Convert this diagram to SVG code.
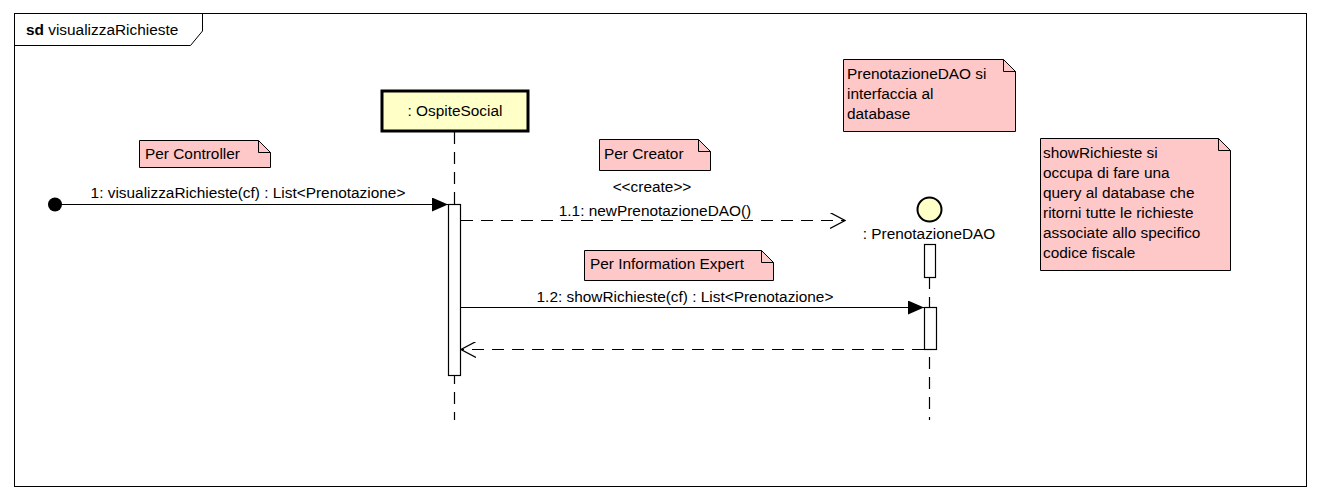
<svg xmlns="http://www.w3.org/2000/svg" width="1320" height="500" viewBox="0 0 1320 500">
<defs>
<style>
text{font-family:"Liberation Sans",Arial,sans-serif;font-size:15.4px;fill:#000}
.note path.b{fill:#ffc8c8;stroke:#000;stroke-width:1}
.note path.f{fill:none;stroke:#000;stroke-width:1}
.life{stroke:#000;stroke-width:1.2;stroke-dasharray:12,8;fill:none}
.act{fill:#fff;stroke:#000;stroke-width:1.2}
.msg{stroke:#000;stroke-width:1.2;fill:none}
.dash{stroke-dasharray:12,8}
</style>
<marker id="filled" markerWidth="16" markerHeight="14" refX="16" refY="7" orient="auto" markerUnits="userSpaceOnUse"><path d="M0,0 L16,7 L0,14 Z" fill="#000"/></marker>
<marker id="open" markerWidth="16" markerHeight="16" refX="15" refY="8" orient="auto" markerUnits="userSpaceOnUse"><path d="M0,0 L15,8 L0,16" fill="none" stroke="#000" stroke-width="1.2"/></marker>
</defs>
<rect width="1320" height="500" fill="#fff"/>
<g id="frame">
<rect x="14.5" y="13.5" width="1292" height="473" fill="none" stroke="#000" stroke-width="1"/>
<path d="M14.5,45.5 H190.5 L202.5,31 V13.5" fill="none" stroke="#000" stroke-width="1"/>
<text x="26" y="35"><tspan font-weight="bold">sd</tspan> visualizzaRichieste</text>
</g>
<g id="ospite">
<line class="life" x1="454.5" y1="132" x2="454.5" y2="420"/>
<rect x="382" y="91" width="146" height="40" fill="#ffffc8" stroke="#000" stroke-width="3"/>
<text x="455" y="116" text-anchor="middle">: OspiteSocial</text>
<rect class="act" x="448.5" y="204.5" width="12" height="171"/>
</g>
<g id="dao">
<line class="life" x1="929.5" y1="277" x2="929.5" y2="420"/>
<circle cx="929.5" cy="209.5" r="12" fill="#ffffc8" stroke="#000" stroke-width="2"/>
<text x="929" y="239" text-anchor="middle">: PrenotazioneDAO</text>
<rect class="act" x="924.5" y="244.5" width="11" height="33"/>
<rect class="act" x="924.5" y="307.5" width="12" height="42"/>
</g>
<g id="note-controller" class="note">
<path class="b" d="M139.5,140.5 H258.5 L270.5,152.5 V167.5 H139.5 Z"/>
<path class="f" d="M258.5,140.5 V152.5 H270.5"/>
<text x="145" y="159">Per Controller</text>
</g>
<g id="note-creator" class="note">
<path class="b" d="M599.5,139.5 H698.5 L710.5,151.5 V170.5 H599.5 Z"/>
<path class="f" d="M698.5,139.5 V151.5 H710.5"/>
<text x="604" y="159">Per Creator</text>
</g>
<g id="note-expert" class="note">
<path class="b" d="M584.5,250.5 H761.5 L773.5,262.5 V280.5 H584.5 Z"/>
<path class="f" d="M761.5,250.5 V262.5 H773.5"/>
<text x="590" y="269">Per Information Expert</text>
</g>
<g id="note-dao" class="note">
<path class="b" d="M843.5,59.5 H1003.5 L1015.5,71.5 V131.5 H843.5 Z"/>
<path class="f" d="M1003.5,59.5 V71.5 H1015.5"/>
<text x="847" y="79">PrenotazioneDAO si</text>
<text x="847" y="99">interfaccia al</text>
<text x="847" y="119">database</text>
</g>
<g id="note-show" class="note">
<path class="b" d="M1040.5,138.5 H1218.5 L1230.5,150.5 V270.5 H1040.5 Z"/>
<path class="f" d="M1218.5,138.5 V150.5 H1230.5"/>
<text x="1043" y="158">showRichieste si</text>
<text x="1043" y="178">occupa di fare una</text>
<text x="1043" y="198">query al database che</text>
<text x="1043" y="218">ritorni tutte le richieste</text>
<text x="1043" y="238">associate allo specifico</text>
<text x="1043" y="258">codice fiscale</text>
</g>
<g id="connectors">
<circle cx="55" cy="204.5" r="7" fill="#000"/>
<line class="msg" x1="55" y1="204.5" x2="448" y2="204.5" marker-end="url(#filled)"/>
<text x="248" y="198" text-anchor="middle">1: visualizzaRichieste(cf) : List&lt;Prenotazione&gt;</text>
<line class="msg dash" x1="461" y1="220.5" x2="845" y2="220.5" marker-end="url(#open)"/>
<text x="652" y="192" text-anchor="middle">&lt;&lt;create&gt;&gt;</text>
<text x="655" y="216" text-anchor="middle">1.1: newPrenotazioneDAO()</text>
<line class="msg" x1="461" y1="307.5" x2="924" y2="307.5" marker-end="url(#filled)"/>
<text x="685" y="302" text-anchor="middle">1.2: showRichieste(cf) : List&lt;Prenotazione&gt;</text>
<line class="msg dash" x1="924" y1="349.5" x2="461" y2="349.5" marker-end="url(#open)"/>
</g>
</svg>
